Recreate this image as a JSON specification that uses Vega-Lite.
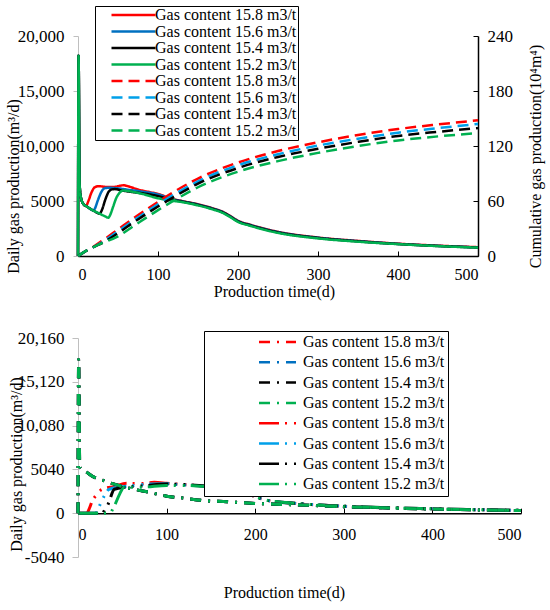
{
  "$schema": "https://vega.github.io/schema/vega-lite/v6.json",
  "background": "white",
  "padding": {"left": 5, "top": 5, "right": 5, "bottom": 5},
  "spacing": 30,
  "config": {
    "view": {"stroke": null},
    "font": "'Liberation Serif', 'Times New Roman', 'DejaVu Serif', serif",
    "axis": {"labelFont": "'Liberation Serif', 'Times New Roman', 'DejaVu Serif', serif", "titleFont": "'Liberation Serif', 'Times New Roman', 'DejaVu Serif', serif", "labelColor": "#000", "titleColor": "#000", "titleFontWeight": "normal", "grid": false, "labelFontSize": 16, "titleFontSize": 16},
    "legend": {"labelFont": "'Liberation Serif', 'Times New Roman', 'DejaVu Serif', serif", "labelColor": "#000"}
  },
  "datasets": {
    "topDaily": [
      {"k":"D15.8","t":0,"v":0},{"k":"D15.8","t":0.7,"v":18200},{"k":"D15.8","t":2,"v":6500},{"k":"D15.8","t":4,"v":5200},{"k":"D15.8","t":7,"v":4700},{"k":"D15.8","t":10,"v":4550},{"k":"D15.8","t":13,"v":5000},{"k":"D15.8","t":17,"v":5800},{"k":"D15.8","t":21,"v":6250},{"k":"D15.8","t":26,"v":6350},{"k":"D15.8","t":35,"v":6280},{"k":"D15.8","t":45,"v":6280},{"k":"D15.8","t":52,"v":6380},{"k":"D15.8","t":57,"v":6430},{"k":"D15.8","t":62,"v":6350},{"k":"D15.8","t":75,"v":6050},{"k":"D15.8","t":90,"v":5800},{"k":"D15.8","t":100,"v":5650},{"k":"D15.8","t":115,"v":5250},{"k":"D15.8","t":130,"v":5000},{"k":"D15.8","t":150,"v":4700},{"k":"D15.8","t":170,"v":4300},{"k":"D15.8","t":180,"v":4050},{"k":"D15.8","t":190,"v":3650},{"k":"D15.8","t":200,"v":3200},{"k":"D15.8","t":215,"v":2850},{"k":"D15.8","t":250,"v":2200},{"k":"D15.8","t":300,"v":1680},{"k":"D15.8","t":350,"v":1370},{"k":"D15.8","t":400,"v":1120},{"k":"D15.8","t":450,"v":940},{"k":"D15.8","t":500,"v":800},
      {"k":"D15.6","t":0,"v":0},{"k":"D15.6","t":0.7,"v":18200},{"k":"D15.6","t":2,"v":6500},{"k":"D15.6","t":4,"v":5200},{"k":"D15.6","t":7,"v":4700},{"k":"D15.6","t":10,"v":4550},{"k":"D15.6","t":14,"v":4350},{"k":"D15.6","t":19,"v":4150},{"k":"D15.6","t":21,"v":4300},{"k":"D15.6","t":25,"v":5100},{"k":"D15.6","t":29,"v":5800},{"k":"D15.6","t":33,"v":6150},{"k":"D15.6","t":38,"v":6200},{"k":"D15.6","t":50,"v":6150},{"k":"D15.6","t":65,"v":6000},{"k":"D15.6","t":80,"v":5850},{"k":"D15.6","t":100,"v":5600},{"k":"D15.6","t":115,"v":5220},{"k":"D15.6","t":130,"v":4980},{"k":"D15.6","t":150,"v":4680},{"k":"D15.6","t":170,"v":4280},{"k":"D15.6","t":180,"v":4030},{"k":"D15.6","t":190,"v":3630},{"k":"D15.6","t":200,"v":3180},{"k":"D15.6","t":215,"v":2830},{"k":"D15.6","t":250,"v":2180},{"k":"D15.6","t":300,"v":1660},{"k":"D15.6","t":350,"v":1350},{"k":"D15.6","t":400,"v":1100},{"k":"D15.6","t":450,"v":920},{"k":"D15.6","t":500,"v":780},
      {"k":"D15.4","t":0,"v":0},{"k":"D15.4","t":0.7,"v":18200},{"k":"D15.4","t":2,"v":6500},{"k":"D15.4","t":4,"v":5200},{"k":"D15.4","t":7,"v":4700},{"k":"D15.4","t":10,"v":4550},{"k":"D15.4","t":14,"v":4350},{"k":"D15.4","t":20,"v":4100},{"k":"D15.4","t":27,"v":3850},{"k":"D15.4","t":30,"v":4200},{"k":"D15.4","t":34,"v":5100},{"k":"D15.4","t":38,"v":5800},{"k":"D15.4","t":42,"v":6050},{"k":"D15.4","t":46,"v":6080},{"k":"D15.4","t":55,"v":5950},{"k":"D15.4","t":70,"v":5800},{"k":"D15.4","t":85,"v":5650},{"k":"D15.4","t":100,"v":5450},{"k":"D15.4","t":115,"v":5150},{"k":"D15.4","t":130,"v":4950},{"k":"D15.4","t":150,"v":4650},{"k":"D15.4","t":170,"v":4250},{"k":"D15.4","t":180,"v":4000},{"k":"D15.4","t":190,"v":3600},{"k":"D15.4","t":200,"v":3150},{"k":"D15.4","t":215,"v":2800},{"k":"D15.4","t":250,"v":2150},{"k":"D15.4","t":300,"v":1640},{"k":"D15.4","t":350,"v":1330},{"k":"D15.4","t":400,"v":1090},{"k":"D15.4","t":450,"v":910},{"k":"D15.4","t":500,"v":770},
      {"k":"D15.2","t":0,"v":0},{"k":"D15.2","t":0.7,"v":18200},{"k":"D15.2","t":2,"v":6500},{"k":"D15.2","t":4,"v":5200},{"k":"D15.2","t":7,"v":4700},{"k":"D15.2","t":10,"v":4550},{"k":"D15.2","t":14,"v":4350},{"k":"D15.2","t":20,"v":4100},{"k":"D15.2","t":27,"v":3850},{"k":"D15.2","t":34,"v":3600},{"k":"D15.2","t":38,"v":3480},{"k":"D15.2","t":40,"v":3700},{"k":"D15.2","t":44,"v":4500},{"k":"D15.2","t":48,"v":5300},{"k":"D15.2","t":52,"v":5750},{"k":"D15.2","t":56,"v":5950},{"k":"D15.2","t":65,"v":5880},{"k":"D15.2","t":80,"v":5650},{"k":"D15.2","t":100,"v":5250},{"k":"D15.2","t":115,"v":5050},{"k":"D15.2","t":130,"v":4900},{"k":"D15.2","t":150,"v":4600},{"k":"D15.2","t":170,"v":4200},{"k":"D15.2","t":180,"v":3950},{"k":"D15.2","t":190,"v":3550},{"k":"D15.2","t":200,"v":3100},{"k":"D15.2","t":215,"v":2750},{"k":"D15.2","t":250,"v":2100},{"k":"D15.2","t":300,"v":1600},{"k":"D15.2","t":350,"v":1300},{"k":"D15.2","t":400,"v":1080},{"k":"D15.2","t":450,"v":900},{"k":"D15.2","t":500,"v":760}
    ],
    "topCum": [
      {"k":"C15.8","t":0,"v":0},{"k":"C15.8","t":10,"v":5.5},{"k":"C15.8","t":20,"v":10.5},{"k":"C15.8","t":30,"v":16.5},{"k":"C15.8","t":50,"v":29},{"k":"C15.8","t":70,"v":41.5},{"k":"C15.8","t":100,"v":59},{"k":"C15.8","t":120,"v":70},{"k":"C15.8","t":150,"v":84.5},{"k":"C15.8","t":200,"v":102},{"k":"C15.8","t":250,"v":114.5},{"k":"C15.8","t":300,"v":124},{"k":"C15.8","t":350,"v":132},{"k":"C15.8","t":400,"v":138.5},{"k":"C15.8","t":450,"v":143.5},{"k":"C15.8","t":500,"v":148},
      {"k":"C15.6","t":0,"v":0},{"k":"C15.6","t":10,"v":5.5},{"k":"C15.6","t":20,"v":10},{"k":"C15.6","t":30,"v":15},{"k":"C15.6","t":50,"v":27},{"k":"C15.6","t":70,"v":39},{"k":"C15.6","t":100,"v":56.5},{"k":"C15.6","t":120,"v":67},{"k":"C15.6","t":150,"v":81.5},{"k":"C15.6","t":200,"v":99},{"k":"C15.6","t":250,"v":111},{"k":"C15.6","t":300,"v":120.5},{"k":"C15.6","t":350,"v":128},{"k":"C15.6","t":400,"v":134.5},{"k":"C15.6","t":450,"v":139.5},{"k":"C15.6","t":500,"v":144},
      {"k":"C15.4","t":0,"v":0},{"k":"C15.4","t":10,"v":5.5},{"k":"C15.4","t":20,"v":10},{"k":"C15.4","t":30,"v":14},{"k":"C15.4","t":50,"v":25},{"k":"C15.4","t":70,"v":37},{"k":"C15.4","t":100,"v":54},{"k":"C15.4","t":120,"v":64.5},{"k":"C15.4","t":150,"v":79},{"k":"C15.4","t":200,"v":96},{"k":"C15.4","t":250,"v":108},{"k":"C15.4","t":300,"v":117},{"k":"C15.4","t":350,"v":124.5},{"k":"C15.4","t":400,"v":131},{"k":"C15.4","t":450,"v":135.5},{"k":"C15.4","t":500,"v":139.5},
      {"k":"C15.2","t":0,"v":0},{"k":"C15.2","t":10,"v":5.5},{"k":"C15.2","t":20,"v":10},{"k":"C15.2","t":30,"v":14},{"k":"C15.2","t":50,"v":21.5},{"k":"C15.2","t":70,"v":33},{"k":"C15.2","t":100,"v":50},{"k":"C15.2","t":120,"v":60.5},{"k":"C15.2","t":150,"v":75},{"k":"C15.2","t":200,"v":92},{"k":"C15.2","t":250,"v":103.5},{"k":"C15.2","t":300,"v":112.5},{"k":"C15.2","t":350,"v":120},{"k":"C15.2","t":400,"v":126},{"k":"C15.2","t":450,"v":130.5},{"k":"C15.2","t":500,"v":134}
    ],
    "bottom": [
      {"k":"S15.8","t":0,"v":0},{"k":"S15.8","t":10,"v":0},{"k":"S15.8","t":13,"v":600},{"k":"S15.8","t":16,"v":1400},{"k":"S15.8","t":20,"v":2000},{"k":"S15.8","t":25,"v":2600},{"k":"S15.8","t":32,"v":2900},{"k":"S15.8","t":40,"v":3050},{"k":"S15.8","t":55,"v":3450},{"k":"S15.8","t":70,"v":3400},{"k":"S15.8","t":86,"v":3550},{"k":"S15.8","t":100,"v":3450},{"k":"S15.8","t":112,"v":3350},{"k":"S15.8","t":131,"v":3200},{"k":"S15.8","t":150,"v":3050},{"k":"S15.8","t":172,"v":2850},{"k":"S15.8","t":185,"v":2500},{"k":"S15.8","t":200,"v":1900},{"k":"S15.8","t":215,"v":1450},{"k":"S15.8","t":250,"v":1100},{"k":"S15.8","t":300,"v":800},{"k":"S15.8","t":350,"v":620},{"k":"S15.8","t":400,"v":500},{"k":"S15.8","t":450,"v":400},{"k":"S15.8","t":500,"v":330},
      {"k":"S15.6","t":0,"v":0},{"k":"S15.6","t":20,"v":0},{"k":"S15.6","t":24,"v":800},{"k":"S15.6","t":29,"v":1870},{"k":"S15.6","t":35,"v":2750},{"k":"S15.6","t":47,"v":3000},{"k":"S15.6","t":60,"v":3150},{"k":"S15.6","t":80,"v":3350},{"k":"S15.6","t":100,"v":3400},{"k":"S15.6","t":112,"v":3300},{"k":"S15.6","t":131,"v":3200},{"k":"S15.6","t":150,"v":3030},{"k":"S15.6","t":172,"v":2850},{"k":"S15.6","t":185,"v":2500},{"k":"S15.6","t":200,"v":1900},{"k":"S15.6","t":215,"v":1450},{"k":"S15.6","t":250,"v":1100},{"k":"S15.6","t":300,"v":800},{"k":"S15.6","t":350,"v":620},{"k":"S15.6","t":400,"v":500},{"k":"S15.6","t":450,"v":400},{"k":"S15.6","t":500,"v":330},
      {"k":"S15.4","t":0,"v":0},{"k":"S15.4","t":28,"v":0},{"k":"S15.4","t":30,"v":380},{"k":"S15.4","t":33,"v":800},{"k":"S15.4","t":35,"v":1300},{"k":"S15.4","t":41,"v":2760},{"k":"S15.4","t":55,"v":3000},{"k":"S15.4","t":75,"v":3150},{"k":"S15.4","t":100,"v":3350},{"k":"S15.4","t":120,"v":3300},{"k":"S15.4","t":140,"v":3150},{"k":"S15.4","t":172,"v":2850},{"k":"S15.4","t":185,"v":2500},{"k":"S15.4","t":200,"v":1900},{"k":"S15.4","t":215,"v":1450},{"k":"S15.4","t":250,"v":1100},{"k":"S15.4","t":300,"v":800},{"k":"S15.4","t":350,"v":620},{"k":"S15.4","t":400,"v":500},{"k":"S15.4","t":450,"v":400},{"k":"S15.4","t":500,"v":330},
      {"k":"S15.2","t":0,"v":0},{"k":"S15.2","t":37,"v":0},{"k":"S15.2","t":38,"v":230},{"k":"S15.2","t":42,"v":1050},{"k":"S15.2","t":47,"v":2200},{"k":"S15.2","t":52,"v":3000},{"k":"S15.2","t":60,"v":3000},{"k":"S15.2","t":72,"v":3000},{"k":"S15.2","t":100,"v":3200},{"k":"S15.2","t":120,"v":3200},{"k":"S15.2","t":140,"v":3100},{"k":"S15.2","t":172,"v":2850},{"k":"S15.2","t":185,"v":2500},{"k":"S15.2","t":200,"v":1900},{"k":"S15.2","t":215,"v":1450},{"k":"S15.2","t":250,"v":1100},{"k":"S15.2","t":300,"v":800},{"k":"S15.2","t":350,"v":620},{"k":"S15.2","t":400,"v":500},{"k":"S15.2","t":450,"v":400},{"k":"S15.2","t":500,"v":330},
      {"k":"F15.8","t":0,"v":0},{"k":"F15.8","t":0.7,"v":17700},{"k":"F15.8","t":2,"v":5300},{"k":"F15.8","t":10,"v":4700},{"k":"F15.8","t":18,"v":4150},{"k":"F15.8","t":25,"v":3900},{"k":"F15.8","t":41,"v":3340},{"k":"F15.8","t":63,"v":2760},{"k":"F15.8","t":81,"v":2400},{"k":"F15.8","t":100,"v":1960},{"k":"F15.8","t":120,"v":1730},{"k":"F15.8","t":142,"v":1450},{"k":"F15.8","t":168,"v":1320},{"k":"F15.8","t":187,"v":1200},{"k":"F15.8","t":210,"v":1080},{"k":"F15.8","t":250,"v":950},{"k":"F15.8","t":300,"v":750},{"k":"F15.8","t":350,"v":600},{"k":"F15.8","t":400,"v":480},{"k":"F15.8","t":450,"v":380},{"k":"F15.8","t":500,"v":300},
      {"k":"F15.6","t":0,"v":0},{"k":"F15.6","t":0.7,"v":17700},{"k":"F15.6","t":2,"v":5300},{"k":"F15.6","t":10,"v":4700},{"k":"F15.6","t":18,"v":4150},{"k":"F15.6","t":25,"v":3900},{"k":"F15.6","t":41,"v":3340},{"k":"F15.6","t":63,"v":2760},{"k":"F15.6","t":81,"v":2400},{"k":"F15.6","t":100,"v":1960},{"k":"F15.6","t":120,"v":1730},{"k":"F15.6","t":142,"v":1450},{"k":"F15.6","t":168,"v":1320},{"k":"F15.6","t":187,"v":1200},{"k":"F15.6","t":210,"v":1080},{"k":"F15.6","t":250,"v":950},{"k":"F15.6","t":300,"v":750},{"k":"F15.6","t":350,"v":600},{"k":"F15.6","t":400,"v":480},{"k":"F15.6","t":450,"v":380},{"k":"F15.6","t":500,"v":300},
      {"k":"F15.4","t":0,"v":0},{"k":"F15.4","t":0.7,"v":17700},{"k":"F15.4","t":2,"v":5300},{"k":"F15.4","t":10,"v":4700},{"k":"F15.4","t":18,"v":4150},{"k":"F15.4","t":25,"v":3900},{"k":"F15.4","t":41,"v":3340},{"k":"F15.4","t":63,"v":2760},{"k":"F15.4","t":81,"v":2400},{"k":"F15.4","t":100,"v":1960},{"k":"F15.4","t":120,"v":1730},{"k":"F15.4","t":142,"v":1450},{"k":"F15.4","t":168,"v":1320},{"k":"F15.4","t":187,"v":1200},{"k":"F15.4","t":210,"v":1080},{"k":"F15.4","t":250,"v":950},{"k":"F15.4","t":300,"v":750},{"k":"F15.4","t":350,"v":600},{"k":"F15.4","t":400,"v":480},{"k":"F15.4","t":450,"v":380},{"k":"F15.4","t":500,"v":300},
      {"k":"F15.2","t":0,"v":0},{"k":"F15.2","t":0.7,"v":17700},{"k":"F15.2","t":2,"v":5300},{"k":"F15.2","t":10,"v":4700},{"k":"F15.2","t":18,"v":4150},{"k":"F15.2","t":25,"v":3900},{"k":"F15.2","t":41,"v":3340},{"k":"F15.2","t":63,"v":2760},{"k":"F15.2","t":81,"v":2400},{"k":"F15.2","t":100,"v":1960},{"k":"F15.2","t":120,"v":1730},{"k":"F15.2","t":142,"v":1450},{"k":"F15.2","t":168,"v":1320},{"k":"F15.2","t":187,"v":1200},{"k":"F15.2","t":210,"v":1080},{"k":"F15.2","t":250,"v":950},{"k":"F15.2","t":300,"v":750},{"k":"F15.2","t":350,"v":600},{"k":"F15.2","t":400,"v":480},{"k":"F15.2","t":450,"v":380},{"k":"F15.2","t":500,"v":300}
    ]
  },
  "vconcat": [
    {
      "width": 400,
      "height": 220,
      "layer": [
        {
          "data": {"name": "topDaily"},
          "mark": {"type": "line", "strokeWidth": 2.5, "interpolate": "monotone"},
          "encoding": {
            "x": {"field": "t", "type": "quantitative", "scale": {"domain": [0, 500], "nice": false},
              "axis": {"values": [0, 100, 200, 300, 400, 500], "title": "Production time(d)", "domainColor": "#000", "domainWidth": 1.5, "tickColor": "#000", "tickSize": -5, "labelPadding": 15, "titlePadding": 1, "titleX": 196}},
            "y": {"field": "v", "type": "quantitative", "scale": {"domain": [0, 20000], "nice": false},
              "axis": {"values": [0, 5000, 10000, 15000, 20000], "labelExpr": "datum.value == 5000 ? '5000' : format(datum.value, ',')", "title": "Daily gas production(m³/d)", "domainColor": "#BFBFBF", "tickColor": "#BFBFBF", "tickSize": 5, "labelPadding": 9, "labelFontSize": 17, "titleX": -65, "titleY": 150, "titleBaseline": "middle"}},
            "color": {"field": "k", "type": "nominal",
              "scale": {"domain": ["D15.8", "D15.6", "D15.4", "D15.2", "C15.8", "C15.6", "C15.4", "C15.2"], "range": ["#FF0000", "#0070C0", "#000000", "#00B050", "#FF0000", "#00A0E9", "#000000", "#00B050"]},
              "legend": {"orient": "none", "legendX": 17, "legendY": -30, "title": null, "strokeColor": "#000", "fillColor": "#fff", "padding": 1, "symbolType": "M-3.385,0H3.385", "symbolSize": 169, "symbolStrokeWidth": 2.5, "symbolOffset": 29.5, "labelOffset": 13.5, "labelFontSize": 16, "rowPadding": 0.5, "labelExpr": "'Gas content ' + substring(datum.label, 1) + ' m3/t\u00a0'"}},
            "strokeDash": {"field": "k", "type": "nominal",
              "scale": {"domain": ["D15.8", "D15.6", "D15.4", "D15.2", "C15.8", "C15.6", "C15.4", "C15.2"], "range": [[1, 0], [1, 0], [1, 0], [1, 0], [11, 6], [11, 6], [11, 6], [11, 6]]},
              "legend": {"orient": "none", "legendX": 17, "legendY": -30, "title": null, "strokeColor": "#000", "fillColor": "#fff", "padding": 1, "symbolType": "M-3.385,0H3.385", "symbolSize": 169, "symbolStrokeWidth": 2.5, "symbolOffset": 29.5, "labelOffset": 13.5, "labelFontSize": 16, "rowPadding": 0.5, "labelExpr": "'Gas content ' + substring(datum.label, 1) + ' m3/t\u00a0'"}}
          }
        },
        {
          "data": {"name": "topCum"},
          "mark": {"type": "line", "strokeWidth": 2.5, "interpolate": "monotone"},
          "encoding": {
            "x": {"field": "t", "type": "quantitative", "scale": {"domain": [0, 500], "nice": false},
              "axis": {"values": [0, 100, 200, 300, 400, 500], "title": "Production time(d)", "domainColor": "#000", "domainWidth": 1.5, "tickColor": "#000", "tickSize": -5, "labelPadding": 15, "titlePadding": 1, "titleX": 196}},
            "y": {"field": "v", "type": "quantitative", "scale": {"domain": [0, 240], "nice": false},
              "axis": {"orient": "right", "values": [0, 60, 120, 180, 240], "title": "Cumulative gas production(10⁴m⁴)", "domainColor": "#000", "domainWidth": 1.5, "tickColor": "#000", "tickSize": -5, "labelPadding": 14, "labelFontSize": 17, "titleAngle": 270, "titleX": 57, "titleY": 120, "titleBaseline": "middle"}},
            "color": {"field": "k", "type": "nominal",
              "scale": {"domain": ["D15.8", "D15.6", "D15.4", "D15.2", "C15.8", "C15.6", "C15.4", "C15.2"], "range": ["#FF0000", "#0070C0", "#000000", "#00B050", "#FF0000", "#00A0E9", "#000000", "#00B050"]}},
            "strokeDash": {"field": "k", "type": "nominal",
              "scale": {"domain": ["D15.8", "D15.6", "D15.4", "D15.2", "C15.8", "C15.6", "C15.4", "C15.2"], "range": [[1, 0], [1, 0], [1, 0], [1, 0], [11, 6], [11, 6], [11, 6], [11, 6]]}}
          }
        }
      ],
      "resolve": {"scale": {"y": "independent"}}
    },
    {
      "width": 443,
      "height": 219,
      "data": {"name": "bottom"},
      "mark": {"type": "line", "strokeWidth": 3, "interpolate": "monotone"},
      "encoding": {
        "x": {"field": "t", "type": "quantitative", "scale": {"domain": [0, 500], "nice": false},
          "axis": {"values": [0, 100, 200, 300, 400, 500], "title": "Production time(d)", "offset": -43.8, "domainColor": "#000", "domainWidth": 1.5, "tickColor": "#000", "tickSize": -5, "labelPadding": 18, "titlePadding": 42, "titleX": 206}},
        "y": {"field": "v", "type": "quantitative", "scale": {"domain": [-5040, 20160], "nice": false},
          "axis": {"values": [-5040, 0, 5040, 10080, 15120, 20160], "labelExpr": "abs(datum.value) < 10000 ? '' + datum.value : format(datum.value, ',')", "title": "Daily gas production(m³/d)", "domainColor": "#BFBFBF", "tickColor": "#BFBFBF", "tickSize": 6, "labelPadding": 8, "labelFontSize": 17, "titleX": -62, "titleY": 126, "titleBaseline": "middle"}},
        "color": {"field": "k", "type": "nominal",
          "scale": {"domain": ["F15.8", "F15.6", "F15.4", "F15.2", "S15.8", "S15.6", "S15.4", "S15.2"], "range": ["#FF0000", "#0070C0", "#000000", "#00B050", "#FF0000", "#00A0E9", "#000000", "#00B050"]},
          "legend": {"orient": "none", "legendX": 126, "legendY": -7, "title": null, "strokeColor": "#000", "fillColor": "#fff", "padding": 3, "symbolType": "M-3.083,0H3.083", "symbolSize": 144, "symbolStrokeWidth": 2.5, "symbolOffset": 62.5, "labelOffset": 17.5, "labelFontSize": 16, "rowPadding": 4.3, "labelExpr": "'Gas content ' + substring(datum.label, 1) + ' m3/t\u00a0\u00a0\u00a0\u00a0\u00a0\u00a0\u00a0\u00a0\u00a0\u00a0\u00a0\u00a0'"}},
        "strokeDash": {"field": "k", "type": "nominal",
          "scale": {"domain": ["F15.8", "F15.6", "F15.4", "F15.2", "S15.8", "S15.6", "S15.4", "S15.2"], "range": [[11, 7, 2, 7], [11, 7, 2, 7], [11, 7, 2, 7], [11, 7, 2, 7], [20, 6, 2, 7, 2, 6], [20, 6, 2, 7, 2, 6], [20, 6, 2, 7, 2, 6], [20, 6, 2, 7, 2, 6]]},
          "legend": {"orient": "none", "legendX": 126, "legendY": -7, "title": null, "strokeColor": "#000", "fillColor": "#fff", "padding": 3, "symbolType": "M-3.083,0H3.083", "symbolSize": 144, "symbolStrokeWidth": 2.5, "symbolOffset": 62.5, "labelOffset": 17.5, "labelFontSize": 16, "rowPadding": 4.3, "labelExpr": "'Gas content ' + substring(datum.label, 1) + ' m3/t\u00a0\u00a0\u00a0\u00a0\u00a0\u00a0\u00a0\u00a0\u00a0\u00a0\u00a0\u00a0'"}}
      }
    }
  ],
  "resolve": {"scale": {"color": "independent", "strokeDash": "independent"}, "legend": {"color": "independent", "strokeDash": "independent"}}
}
